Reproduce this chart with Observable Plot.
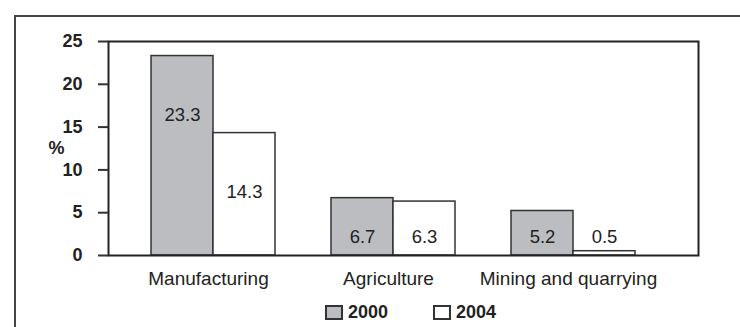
<!DOCTYPE html>
<html>
<head>
<meta charset="utf-8">
<script src="https://cdn.jsdelivr.net/npm/d3@7"></script>
<script src="https://cdn.jsdelivr.net/npm/@observablehq/plot@0.6"></script>
<style>
  html, body { margin: 0; padding: 0; background: #fff; overflow: hidden; }
  body { width: 740px; height: 327px; position: relative; font-family: "Liberation Sans", Arial, sans-serif; }
  #outer { position: absolute; left: 14px; top: 15px; width: 800px; height: 400px;
           border-left: 2px solid #444; border-top: 2px solid #444; box-sizing: border-box; }
  #chart { position: absolute; left: 0; top: 0; }
  #legend { position: absolute; left: 325px; top: 302px; display: flex; align-items: center;
            font-size: 18px; font-weight: bold; color: #222; line-height: 20px; }
  .item { display: flex; align-items: center; }
  .box { width: 14px; height: 11px; border: 2px solid #333; margin-right: 5px; }
</style>
</head>
<body>
<div id="outer"></div>
<div id="chart"></div>
<div id="legend"></div>
<script>
const categories = ["Manufacturing", "Agriculture", "Mining and quarrying"];
const years = ["2000", "2004"];
const values2000 = [23.3, 6.7, 5.2];
const values2004 = [14.3, 6.3, 0.5];
const yTicks = [0, 5, 10, 15, 20, 25];
const colors = {"2000": "#bcbdc1", "2004": "#ffffff"};

const d2000 = categories.map((c, i) => ({cat: c, v: values2000[i]}));
const d2004 = categories.map((c, i) => ({cat: c, v: values2004[i]}));
const labelY = d => Math.max(d.v - 6.85, 2.1);

const font = '"Liberation Sans", Arial, sans-serif';

const plot = Plot.plot({
  width: 740,
  height: 295,
  marginLeft: 108,
  marginRight: 42,
  marginTop: 41,
  marginBottom: 40,
  style: {fontFamily: font, color: "#222", background: "transparent"},
  x: {type: "band", domain: categories, paddingInner: 0.311, paddingOuter: 0.294, align: 0.406, label: null},
  y: {domain: [0, 25], label: null},
  marks: [
    Plot.barY(d2000, {x: "cat", y: "v", fill: colors["2000"], stroke: "#333", strokeWidth: 1.5, insetRight: 62}),
    Plot.barY(d2004, {x: "cat", y: "v", fill: colors["2004"], stroke: "#333", strokeWidth: 1.5, insetLeft: 62}),
    Plot.text(d2000, {x: "cat", y: labelY, text: d => d.v.toFixed(1), dx: -31, fontSize: 18.5, fill: "#222"}),
    Plot.text(d2004, {x: "cat", y: labelY, text: d => d.v.toFixed(1), dx: 31, fontSize: 18.5, fill: "#222"}),
    Plot.frame({stroke: "#222", strokeWidth: 2}),
    Plot.axisY({ticks: yTicks, tickSize: 10, tickPadding: 16, strokeWidth: 2, stroke: "#333",
                fontSize: 18, fontWeight: "bold", fill: "#222", label: null}),
    Plot.axisX({tickSize: 0, tickPadding: 16, dx: -5, fontSize: 19, fill: "#222", label: null}),
    Plot.text(["%"], {frameAnchor: "left", dx: -60, fontSize: 18, fontWeight: "bold", fill: "#222"})
  ]
});
document.getElementById("chart").appendChild(plot);

const legend = document.getElementById("legend");
years.forEach((yr, i) => {
  const item = document.createElement("div");
  item.className = "item";
  if (i > 0) item.style.marginLeft = "45px";
  const box = document.createElement("div");
  box.className = "box";
  box.style.background = colors[yr];
  const label = document.createElement("span");
  label.textContent = yr;
  item.appendChild(box);
  item.appendChild(label);
  legend.appendChild(item);
});
</script>
</body>
</html>
